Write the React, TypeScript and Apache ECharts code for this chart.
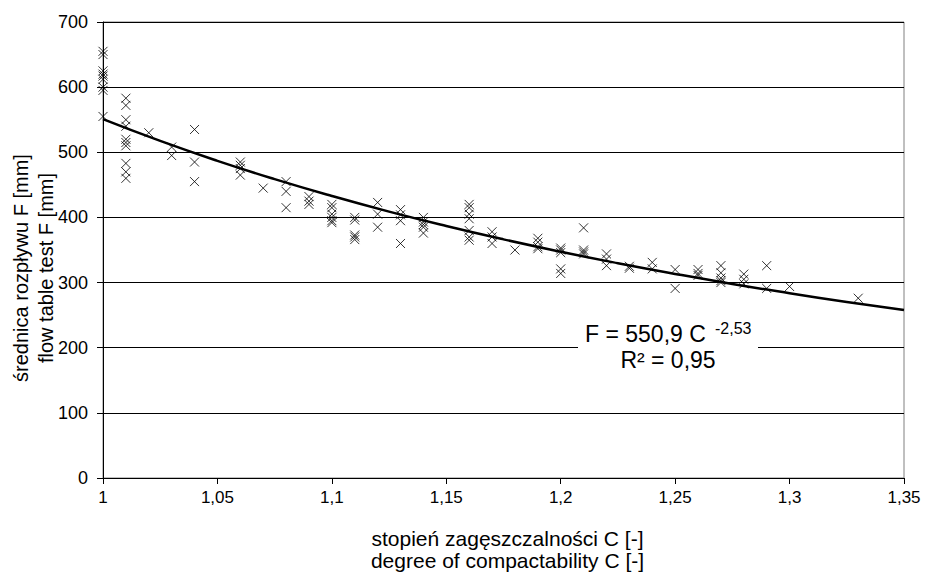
import React, { useEffect, useRef } from "react";
import * as echarts from "echarts";

// degree of compactability levels (x) and measured flow table values (y) at each level
const cLevels = [1, 1.01, 1.02, 1.03, 1.04, 1.06, 1.07, 1.08, 1.09, 1.1, 1.11, 1.12, 1.13, 1.14, 1.16, 1.17, 1.18, 1.19, 1.2, 1.21, 1.22, 1.23, 1.24, 1.25, 1.26, 1.27, 1.28, 1.29, 1.3, 1.33];
const fByLevel = [
  [655, 650, 625, 620, 617, 612, 600, 595, 555],
  [583, 572, 550, 540, 520, 515, 510, 483, 470, 460],
  [530],
  [508, 495],
  [535, 485, 455],
  [485, 480, 475, 465],
  [445],
  [455, 440, 415],
  [432, 425, 420],
  [420, 415, 405, 400, 395, 392],
  [400, 396, 373, 370, 366],
  [423, 405, 385],
  [412, 404, 395, 360],
  [400, 393, 389, 385, 376],
  [420, 415, 405, 398, 380, 370, 365],
  [378, 370, 360],
  [350],
  [368, 362, 355, 352],
  [353, 350, 346, 321, 314],
  [384, 350, 347, 344],
  [344, 336, 326],
  [325, 322],
  [331, 321],
  [320, 291],
  [320, 314, 311],
  [326, 315, 307, 303, 300],
  [313, 305, 298],
  [326, 291],
  [294],
  [276],
];

// power trendline F = 550,9 C^-2,53 read at regular C steps
const trendC = [1, 1.025, 1.05, 1.075, 1.1, 1.125, 1.15, 1.175, 1.2, 1.225, 1.25, 1.275, 1.3, 1.325, 1.35];
const trendF = [550.9, 517.5, 486.9, 458.8, 432.9, 408.9, 386.8, 366.3, 347.3, 329.7, 313.3, 297.9, 283.7, 270.3, 257.8];

const yTicks = { min: 0, max: 700, interval: 100 };
const xTicks = { min: 1, max: 1.35, interval: 0.05 };

const xName = "stopień zagęszczalności C [-]\ndegree of compactability C [-]";
const yName = "średnica rozpływu F [mm]\nflow table test F [mm]";
const eqMain = "F = 550,9 C";
const eqExp = "-2,53";
const eqR2 = "R² = 0,95";

const FONT = "'Liberation Sans', Arial, sans-serif";

export default function App() {
  const ref = useRef<HTMLDivElement>(null);
  useEffect(() => {
    if (!ref.current) return;
    const chart = echarts.init(ref.current, null, { renderer: "svg" });
    const scatterData: number[][] = [];
    cLevels.forEach((c, i) => fByLevel[i].forEach((f) => scatterData.push([c, f])));
    const trendData = trendC.map((c, i) => [c, trendF[i]]);
    const fmt = (v: number) => String(Number(v.toFixed(2))).replace(".", ",");

    chart.setOption({
      animation: false,
      backgroundColor: "#ffffff",
      textStyle: { fontFamily: FONT },
      grid: {
        left: 103, right: 21, top: 22, bottom: 96,
        containLabel: false, outerBoundsMode: "none",
        show: true, borderColor: "#808080", borderWidth: 1,
      },
      xAxis: {
        type: "value",
        min: xTicks.min,
        max: xTicks.max,
        interval: xTicks.interval,
        name: xName,
        nameLocation: "middle",
        nameGap: 49,
        nameTextStyle: { fontSize: 21, color: "#000", lineHeight: 22, fontFamily: FONT, padding: [0, 0, 0, 8] },
        axisLine: { show: true, onZero: false, lineStyle: { color: "#000", width: 1 } },
        axisTick: { show: true, inside: false, length: 6, lineStyle: { color: "#000" } },
        axisLabel: { fontSize: 17, color: "#000", margin: 11, formatter: fmt, fontFamily: FONT },
        splitLine: { show: false },
      },
      yAxis: {
        type: "value",
        min: yTicks.min,
        max: yTicks.max,
        interval: yTicks.interval,
        axisLine: { show: true, lineStyle: { color: "#000", width: 1 } },
        axisTick: { show: true, inside: false, length: 6, lineStyle: { color: "#000" } },
        axisLabel: { fontSize: 18, color: "#000", margin: 15, fontFamily: FONT },
        splitLine: { show: true, lineStyle: { color: "#000", width: 1 } },
      },
      series: [
        {
          type: "scatter",
          data: scatterData,
          symbol: "path://M0,0L10,10M10,0L0,10",
          symbolSize: 9,
          itemStyle: { color: "none", borderColor: "#000", borderWidth: 1 },
          z: 3,
        },
        {
          type: "line",
          data: trendData,
          smooth: true,
          showSymbol: false,
          symbol: "none",
          lineStyle: { color: "#000", width: 2.5 },
          z: 4,
        },
      ],
      graphic: [
        {
          type: "text", x: 33, y: 268, rotation: Math.PI / 2,
          style: { text: yName, fontSize: 20, lineHeight: 25, fill: "#000", fontFamily: FONT, textAlign: "center", textVerticalAlign: "middle" },
        },
        { type: "rect", shape: { x: 578, y: 322, width: 180, height: 52 }, style: { fill: "#fff" }, z: 10 },
        { type: "text", x: 585, y: 334, style: { text: eqMain, fontSize: 23, fill: "#000", fontFamily: FONT, textAlign: "left", textVerticalAlign: "middle" }, z: 11 },
        { type: "text", x: 715, y: 328, style: { text: eqExp, fontSize: 16, fill: "#000", fontFamily: FONT, textAlign: "left", textVerticalAlign: "middle" }, z: 11 },
        { type: "text", x: 668, y: 360, style: { text: eqR2, fontSize: 23, fill: "#000", fontFamily: FONT, textAlign: "center", textVerticalAlign: "middle" }, z: 11 },
      ],
    });
    return () => chart.dispose();
  }, []);
  return <div ref={ref} style={{ position: "fixed", left: 0, top: 0, width: 925, height: 574, background: "#fff" }} />;
}
